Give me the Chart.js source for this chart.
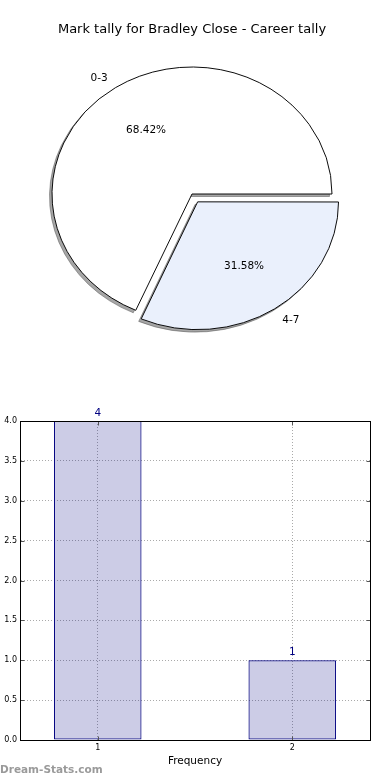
<!DOCTYPE html>
<html><head><meta charset="utf-8">
<script src="https://cdn.jsdelivr.net/npm/chart.js@4/dist/chart.umd.min.js"></script>
<style>
html,body{margin:0;padding:0;background:#fff;width:390px;height:780px;overflow:hidden;position:relative;font-family:"DejaVu Sans",sans-serif;}
#pie{position:absolute;left:0;top:0;}
#bar{position:absolute;left:0;top:380px;}
#wm{position:absolute;left:0;top:763px;font:bold 10.5px "DejaVu Sans";color:#9a9a9a;line-height:12px;}
</style></head><body>
<canvas id="pie" width="390" height="380"></canvas>
<canvas id="bar" width="390" height="400"></canvas>
<div id="wm">Dream-Stats.com</div>
<script>
// ---- data ----
const pieTitle = 'Mark tally for Bradley Close - Career tally';
const pieLabels = ['0-3', '4-7'];
const pieCounts = [13, 6];
const pieColors = ['#ffffff', '#eaf0fc'];
const pieExplode = [0, 0.08];

const barCategories = [1, 2];
const barValues = [4, 1];
const barXTitle = 'Frequency';
const barYMin = 0, barYMax = 4, barYStep = 0.5;

const FONT = '"DejaVu Sans", sans-serif';

// ---- pie ----
const R = 140, KY = 127 / 140;
const SHADOW = 'rgba(77,77,77,0.5)';
const total = pieCounts.reduce((a, b) => a + b, 0);
// matplotlib goes counter-clockwise from 3 o'clock; Chart.js clockwise -> reverse
const order = pieLabels.map((_, i) => i).reverse();
const dLabels = order.map(i => pieLabels[i]);
const dCounts = order.map(i => pieCounts[i]);
const dColors = order.map(i => pieColors[i]);
const dExplode = order.map(i => pieExplode[i]);
const dOffsets = dCounts.map((v, k) => {
  const circ = v / total * 2 * Math.PI;
  const fix = 1 - Math.sin(Math.min(Math.PI, circ));
  return dExplode[k] * R / (0.25 * (1 + fix));
});

function ellipseTransform(ctx, cy) {
  ctx.translate(0, cy);
  ctx.scale(1, KY);
  ctx.translate(0, -cy);
}

const ellipsePlugin = {
  id: 'ellipse',
  beforeDatasetsDraw(chart) {
    const ctx = chart.ctx;
    const meta = chart.getDatasetMeta(0);
    const cy = meta.data[0].y;
    ctx.save();
    ctx.translate(-2.5, 2.5);
    ellipseTransform(ctx, cy);
    meta.data.forEach(arc => {
      const o = arc.options;
      const bg = o.backgroundColor, bc = o.borderColor;
      o.backgroundColor = SHADOW; o.borderColor = SHADOW;
      arc.draw(ctx);
      o.backgroundColor = bg; o.borderColor = bc;
    });
    ctx.restore();
    ctx.save();
    ellipseTransform(ctx, cy);
  },
  afterDatasetsDraw(chart) {
    const ctx = chart.ctx;
    ctx.restore();
    const meta = chart.getDatasetMeta(0);
    ctx.save();
    ctx.font = '10.5px ' + FONT;
    ctx.fillStyle = '#000';
    ctx.textBaseline = 'middle';
    meta.data.forEach((arc, k) => {
      const mid = (arc.startAngle + arc.endAngle) / 2;
      const c = Math.cos(mid), s = Math.sin(mid);
      const ex = dExplode[k] * R;
      const cx = arc.x, cy = arc.y;
      const lr = ex + 1.1 * R;
      ctx.textAlign = c < 0 ? 'right' : 'left';
      ctx.fillText(dLabels[k], cx + c * lr, cy + s * lr * KY + 1);
      const pr = ex + 0.6 * R;
      ctx.textAlign = 'center';
      ctx.fillText((dCounts[k] / total * 100).toFixed(2) + '%', cx + c * pr, cy + s * pr * KY);
    });
    ctx.restore();
  }
};

new Chart(document.getElementById('pie'), {
  type: 'pie',
  data: {
    labels: dLabels,
    datasets: [{
      data: dCounts,
      backgroundColor: dColors,
      borderColor: '#000',
      borderWidth: 1,
      borderJoinStyle: 'miter',
      offset: dOffsets,
      hoverOffset: 0
    }]
  },
  options: {
    responsive: false,
    animation: false,
    events: [],
    rotation: 90,
    radius: R,
    layout: { padding: { top: 0, left: 0, right: 6, bottom: 29.6 } },
    plugins: {
      legend: { display: false },
      tooltip: { enabled: false },
      title: {
        display: true, text: pieTitle, color: '#000',
        font: { size: 13, family: FONT, weight: 'normal' },
        padding: { top: 22, bottom: 0 }
      }
    }
  },
  plugins: [ellipsePlugin]
});

// ---- bar ----
const framePlugin = {
  id: 'frame',
  afterDraw(chart) {
    const ctx = chart.ctx, a = chart.chartArea;
    const L = Math.round(a.left) + 0.5, T = Math.round(a.top) + 0.5;
    const Rr = Math.round(a.right) + 0.5, B = Math.round(a.bottom) + 0.5;
    ctx.save();
    ctx.strokeStyle = '#555';
    ctx.lineWidth = 1;
    ctx.beginPath();
    chart.scales.y.ticks.forEach((t, i) => {
      const y = Math.round(chart.scales.y.getPixelForTick(i)) + 0.5;
      ctx.moveTo(L, y); ctx.lineTo(L + 4, y);
      ctx.moveTo(Rr, y); ctx.lineTo(Rr - 4, y);
    });
    chart.scales.x.ticks.forEach((t, i) => {
      const x = Math.round(chart.scales.x.getPixelForTick(i)) + 0.5;
      ctx.moveTo(x, B); ctx.lineTo(x, B - 4);
      ctx.moveTo(x, T); ctx.lineTo(x, T + 4);
    });
    ctx.stroke();
    ctx.strokeStyle = '#000';
    ctx.strokeRect(L, T, Rr - L, B - T);
    ctx.restore();
  }
};
const barLabelPlugin = {
  id: 'barLabels',
  afterDatasetsDraw(chart) {
    const ctx = chart.ctx;
    const meta = chart.getDatasetMeta(0);
    ctx.save();
    ctx.font = '10.5px ' + FONT;
    ctx.fillStyle = '#000080';
    ctx.textAlign = 'center';
    ctx.textBaseline = 'middle';
    meta.data.forEach((bar, i) => {
      ctx.fillText(String(barValues[i]), bar.x, bar.y - 8);
    });
    ctx.restore();
  }
};

const gridOpts = { color: '#aaaaaa', lineWidth: 1, drawTicks: false, offset: false };
const borderOpts = { display: true, color: '#000', width: 1, dash: [1, 2] };

new Chart(document.getElementById('bar'), {
  type: 'bar',
  data: {
    datasets: [{
      data: barCategories.map((c, i) => ({ x: c, y: barValues[i] })),
      backgroundColor: 'rgba(0,0,128,0.2)',
      borderColor: '#000080',
      borderWidth: 1,
      borderSkipped: false,
      barPercentage: 0.45,
      categoryPercentage: 1
    }]
  },
  options: {
    responsive: false,
    animation: false,
    events: [],
    layout: { padding: { top: 41, right: 20, left: 0, bottom: 0 } },
    plugins: { legend: { display: false }, tooltip: { enabled: false } },
    scales: {
      x: {
        type: 'linear', min: 0.6, max: 2.4, offset: false,
        afterBuildTicks: s => { s.ticks = barCategories.map(v => ({ value: v })); },
        afterFit: s => { s.height = 40; },
        ticks: { font: { size: 8, family: FONT }, color: '#000', padding: 3, autoSkip: false, maxRotation: 0, callback: v => String(v) },
        grid: gridOpts,
        border: borderOpts,
        title: { display: true, text: barXTitle, color: '#000', font: { size: 10.5, family: FONT }, padding: { top: 0, bottom: 12.7 } }
      },
      y: {
        min: barYMin, max: barYMax,
        afterFit: s => { s.width = 20; },
        ticks: { stepSize: barYStep, font: { size: 8, family: FONT }, color: '#000', padding: 3, callback: v => Number(v).toFixed(1) },
        grid: gridOpts,
        border: borderOpts
      }
    }
  },
  plugins: [framePlugin, barLabelPlugin]
});
</script>
</body></html>
